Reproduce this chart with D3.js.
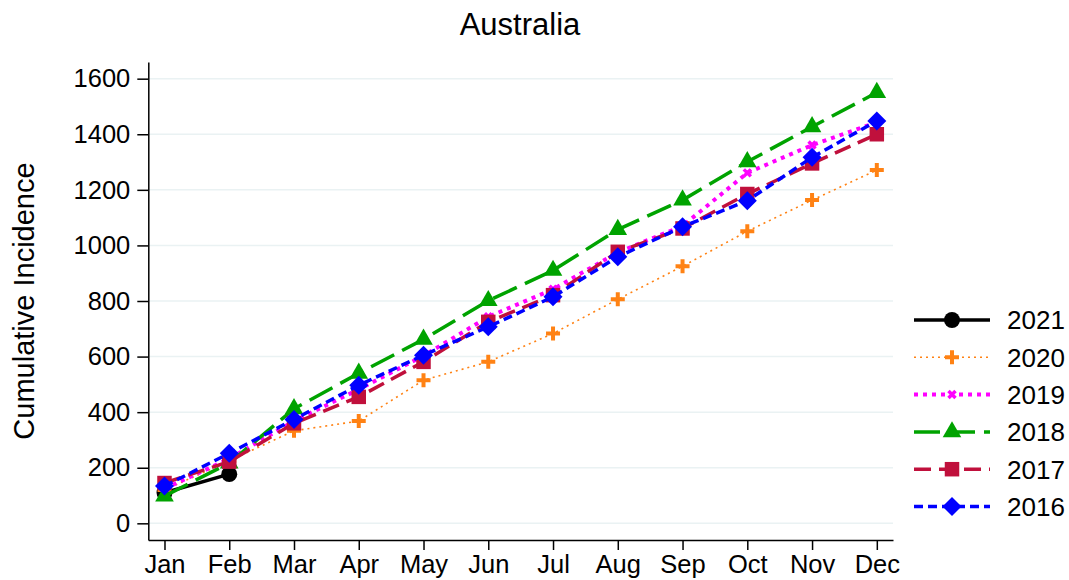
<!DOCTYPE html>
<html>
<head>
<meta charset="utf-8">
<script src="https://cdn.jsdelivr.net/npm/d3@7"></script>
<style>
  body { margin: 0; background: #fff; }
  text { font-family: "Liberation Sans", Arial, sans-serif; fill: #000; }
</style>
</head>
<body>
<div id="chart"></div>
<script>
// Chart data
var months = ["Jan", "Feb", "Mar", "Apr", "May", "Jun", "Jul", "Aug", "Sep", "Oct", "Nov", "Dec"];
var yTicks = [0, 200, 400, 600, 800, 1000, 1200, 1400, 1600];
var years = ["2021", "2020", "2019", "2018", "2017", "2016"];

var v2021 = [110, 177];
var v2020 = [120, 225, 333, 368, 515, 581, 683, 806, 925, 1051, 1163, 1271];
var v2019 = [125, 232, 368, 482, 603, 743, 842, 975, 1070, 1261, 1361, 1443];
var v2018 = [98, 217, 412, 540, 662, 801, 910, 1057, 1163, 1301, 1427, 1550];
var v2017 = [145, 222, 360, 455, 581, 725, 821, 977, 1061, 1185, 1295, 1400];
var v2016 = [134, 252, 374, 497, 605, 707, 815, 959, 1067, 1161, 1317, 1448];

var seriesValues = [v2021, v2020, v2019, v2018, v2017, v2016];

// Look of each series, same order as years
var styles = [
    { color: "#000000", width: 3.5, dash: null, marker: "circle" },
    { color: "#ff8214", width: 1.6, dash: "2,4", marker: "plus" },
    { color: "#ff00ff", width: 4, dash: "4,5", marker: "x" },
    { color: "#00a300", width: 3.5, dash: "26,9", marker: "triangle" },
    { color: "#c0103c", width: 3.5, dash: "17,8", marker: "square" },
    { color: "#0000ff", width: 3.5, dash: "9,5", marker: "diamond" }
];

var svgWidth = 1069;
var svgHeight = 580;

var svg = d3.select("#chart")
    .append("svg")
    .attr("width", svgWidth)
    .attr("height", svgHeight);

var xScale = d3.scaleLinear()
    .domain([-0.25, 11.25])
    .range([148.3, 893]);

var yScale = d3.scaleLinear()
    .domain([-60, 1660])
    .range([540, 62]);

// gridlines
svg.append("g")
    .selectAll("line")
    .data(yTicks)
    .enter()
    .append("line")
    .attr("x1", xScale.range()[0])
    .attr("x2", xScale.range()[1])
    .attr("y1", d => yScale(d))
    .attr("y2", d => yScale(d))
    .attr("stroke", "#eaf2f3")
    .attr("stroke-width", 1.5);

// axes
var leftAxis = d3.axisLeft(yScale)
    .tickValues(yTicks)
    .tickFormat(d3.format("d"))
    .tickSize(11)
    .tickSizeOuter(0)
    .tickPadding(7);

var bottomAxis = d3.axisBottom(xScale)
    .tickValues(d3.range(months.length))
    .tickFormat(i => months[i])
    .tickSize(10)
    .tickSizeOuter(0)
    .tickPadding(5);

var gy = svg.append("g")
    .attr("transform", `translate(${xScale.range()[0]},0)`)
    .call(leftAxis);

var gx = svg.append("g")
    .attr("transform", `translate(0,${yScale.range()[0]})`)
    .call(bottomAxis);

[gx, gy].forEach(function (g) {
    g.selectAll("path, line").attr("stroke", "#000").attr("stroke-width", 1.5);
    g.selectAll("text")
        .style("font-family", "'Liberation Sans', Arial, sans-serif")
        .style("font-size", "25.5px")
        .attr("fill", "#000");
});

// marker shapes
function markerPath(type) {
    if (type === "circle") return d3.symbol(d3.symbolCircle, 200)();
    if (type === "triangle") return d3.symbol(d3.symbolTriangle, 150)();
    if (type === "square") return d3.symbol(d3.symbolSquare, 210)();
    if (type === "diamond") return "M0,-9.5L9.5,0L0,9.5L-9.5,0Z";
    if (type === "plus") return "M-7,0H7M0,-7V7";
    if (type === "x") return "M-3.5,-3.5L3.5,3.5M-3.5,3.5L3.5,-3.5";
}

function drawMarker(g, type, color) {
    var p = g.append("path").attr("d", markerPath(type));
    if (type === "plus") {
        p.attr("fill", "none").attr("stroke", color).attr("stroke-width", 4);
    } else if (type === "x") {
        p.attr("fill", "none").attr("stroke", color).attr("stroke-width", 3.5);
    } else {
        p.attr("fill", color).attr("stroke", "none");
    }
    return p;
}

var line = d3.line()
    .x((d, i) => xScale(i))
    .y(d => yScale(d));

// series, drawn in legend order so 2016 ends on top
seriesValues.forEach(function (vals, k) {
    var st = styles[k];
    var g = svg.append("g");
    g.append("path")
        .datum(vals)
        .attr("d", line)
        .attr("fill", "none")
        .attr("stroke", st.color)
        .attr("stroke-width", st.width)
        .attr("stroke-dasharray", st.dash);
    vals.forEach(function (v, i) {
        var m = g.append("g").attr("transform", `translate(${xScale(i)},${yScale(v)})`);
        drawMarker(m, st.marker, st.color);
    });
});

// legend
var legend = svg.append("g");
years.forEach(function (yr, k) {
    var st = styles[k];
    var ly = 320 + k * 37.3;
    var row = legend.append("g").attr("transform", `translate(0,${ly})`);
    row.append("line")
        .attr("x1", 914)
        .attr("x2", 990)
        .attr("y1", 0)
        .attr("y2", 0)
        .attr("stroke", st.color)
        .attr("stroke-width", st.width)
        .attr("stroke-dasharray", st.dash);
    var m = row.append("g").attr("transform", "translate(952,0)");
    drawMarker(m, st.marker, st.color);
    row.append("text")
        .attr("x", 1007)
        .attr("y", 0)
        .attr("dy", "0.36em")
        .style("font-size", "26px")
        .text(yr);
});

// title and y label
svg.append("text")
    .attr("x", 520)
    .attr("y", 35)
    .attr("text-anchor", "middle")
    .style("font-size", "31px")
    .text("Australia");

svg.append("text")
    .attr("transform", "translate(34,301) rotate(-90)")
    .attr("text-anchor", "middle")
    .style("font-size", "29px")
    .text("Cumulative Incidence");
</script>
</body>
</html>
